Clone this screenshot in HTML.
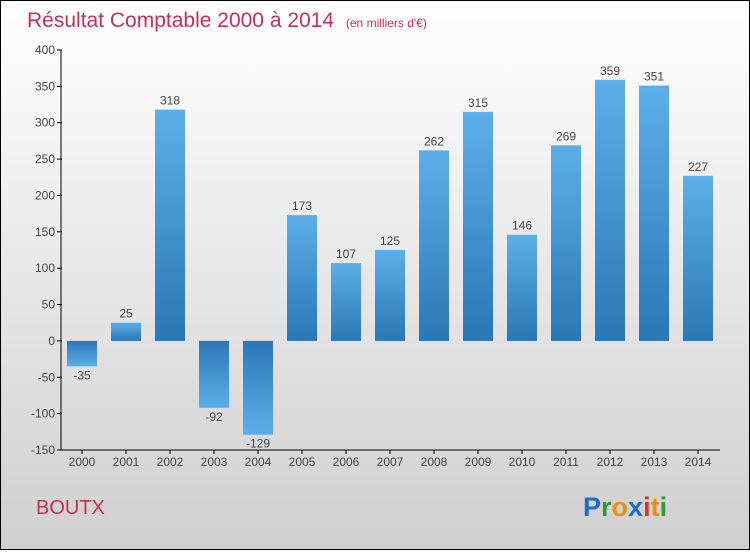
<!DOCTYPE html>
<html><head><meta charset="utf-8"><style>
body{margin:0;width:750px;height:550px;overflow:hidden;font-family:"Liberation Sans",sans-serif}
</style></head><body>
<svg width="750" height="550" xmlns="http://www.w3.org/2000/svg">
<defs>
<linearGradient id="bg" x1="0" y1="0" x2="0" y2="1"><stop offset="0" stop-color="#ffffff"/><stop offset="1" stop-color="#cfcfcf"/></linearGradient>
<linearGradient id="pos" x1="0" y1="0" x2="0" y2="1"><stop offset="0" stop-color="#5caee8"/><stop offset="1" stop-color="#2a78b6"/></linearGradient>
<linearGradient id="neg" x1="0" y1="0" x2="0" y2="1"><stop offset="0" stop-color="#2a78b6"/><stop offset="1" stop-color="#5caee8"/></linearGradient>
</defs>
<rect x="0.5" y="0.5" width="749" height="549" fill="url(#bg)" stroke="#000"/>
<text x="27" y="27" font-size="21" fill="#c0305a">Résultat Comptable 2000 à 2014 <tspan font-size="12" dx="6">(en milliers d'€)</tspan></text>
<g id="axes"></g>
<g id="bars"></g>
<text x="36" y="514" font-size="20" fill="#c0305a">BOUTX</text>
<g font-size="27" font-weight="bold" font-family="'Liberation Sans',sans-serif">
<text x="583" y="516"><tspan fill="#1a6fc4">P</tspan><tspan fill="#2a9a3a">r</tspan><tspan fill="#f08a10">o</tspan><tspan fill="#1a6fc4">x</tspan><tspan fill="#e03020">i</tspan><tspan fill="#f08a10">t</tspan><tspan fill="#2a9a3a">i</tspan></text>
</g>
</svg>
<script>
const categories=["2000","2001","2002","2003","2004","2005","2006","2007","2008","2009","2010","2011","2012","2013","2014"];
const values=[-35,25,318,-92,-129,173,107,125,262,315,146,269,359,351,227];
const yTicks=[-150,-100,-50,0,50,100,150,200,250,300,350,400];
const NS="http://www.w3.org/2000/svg";
const y=v=>50+(400-v)*400/550;
const x=i=>82+i*44;
const ax=document.getElementById('axes'),bg=document.getElementById('bars');
function mk(tag,attrs,parent,txt){const e=document.createElementNS(NS,tag);for(const k in attrs)e.setAttribute(k,attrs[k]);if(txt!==undefined)e.textContent=txt;parent.appendChild(e);return e;}
let l=mk('line',{x1:61,y1:y(400),x2:61,y2:y(-150),stroke:'#000'},ax);


yTicks.forEach(t=>{
 const tk=mk('line',{x1:57,y1:y(t),x2:62,y2:y(t),stroke:'#000'},ax);
 
 
 const tx=mk('text',{x:55,y:y(t)+4,'text-anchor':'end','font-size':12,fill:'#444'},ax,t);
 
 
});
const xl=mk('line',{x1:61,y1:y(-150),x2:720,y2:y(-150),stroke:'#000'},ax);


categories.forEach((c,i)=>{
 const tk=mk('line',{x1:x(i),y1:y(-150),x2:x(i),y2:y(-150)+4,stroke:'#000'},ax);
 
 
 const tx=mk('text',{x:x(i),y:466,'text-anchor':'middle','font-size':12,fill:'#444'},ax,c);
 
 
 const v=values[i];
 const top=Math.min(y(v),y(0)),h=Math.abs(y(v)-y(0));
 const r=mk('rect',{x:x(i)-15,y:top,width:30,height:h,fill:v>=0?'url(#pos)':'url(#neg)'},bg);
 
 
 const ly=v>=0?y(v)-5:y(v)+13;
 const lt=mk('text',{x:x(i),y:ly,'text-anchor':'middle','font-size':12,fill:'#444'},bg,v);
 
 
});
</script>
</body></html>
